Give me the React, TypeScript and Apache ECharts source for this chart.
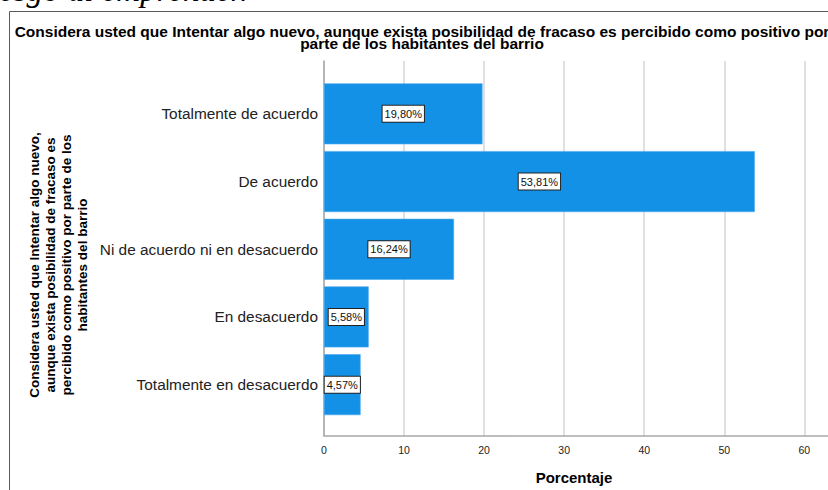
import React, { useEffect, useRef } from "react";
import * as echarts from "echarts";

const categories = [
  "Totalmente de acuerdo",
  "De acuerdo",
  "Ni de acuerdo ni en desacuerdo",
  "En desacuerdo",
  "Totalmente en desacuerdo",
];
const percentages = [19.8, 53.81, 16.24, 5.58, 4.57];
const xTicksMin = 0;
const xTicksMax = 70;
const xTickStep = 10;

const titleText =
  "Considera usted que Intentar algo nuevo, aunque exista posibilidad de fracaso es percibido como positivo por\nparte de los habitantes del barrio";
const yName =
  "Considera usted que Intentar algo nuevo,\naunque exista posibilidad de fracaso es\npercibido como positivo por parte de los\nhabitantes del barrio";
const xName = "Porcentaje";
const docText = "esgo al emprender.";

const SANS = "'Liberation Sans', Arial, sans-serif";

export default function App() {
  const ref = useRef<HTMLDivElement>(null);
  useEffect(() => {
    if (!ref.current) return;
    const chart = echarts.init(ref.current, null, { renderer: "svg" });
    const plotLeft = 324;
    const plotWidth = 560.4;
    chart.setOption({
      animation: false,
      backgroundColor: "#ffffff",
      grid: [
        { left: plotLeft, top: 61, width: plotWidth, height: 375 },
        { left: plotLeft, top: 80, width: plotWidth, height: 338.5 },
      ],
      xAxis: [
        {
          type: "value",
          gridIndex: 0,
          min: xTicksMin,
          max: xTicksMax,
          interval: xTickStep,
          axisLine: { show: true, lineStyle: { color: "#a8a8a8", width: 1.5 } },
          axisTick: { show: false },
          axisLabel: {
            margin: 8,
            color: "#222",
            fontSize: 10.5,
            fontFamily: SANS,
            showMaxLabel: false,
          },
          splitLine: { show: true, lineStyle: { color: "#d6d6d6", width: 1.5 } },
        },
        {
          type: "value",
          gridIndex: 1,
          min: xTicksMin,
          max: xTicksMax,
          show: false,
        },
      ],
      yAxis: [
        {
          type: "value",
          gridIndex: 0,
          axisLine: { show: true, lineStyle: { color: "#a8a8a8", width: 1.5 } },
          axisTick: { show: false },
          axisLabel: { show: false },
          splitLine: { show: false },
        },
        {
          type: "category",
          gridIndex: 1,
          inverse: true,
          data: categories,
          axisLine: { show: false },
          axisTick: { show: false },
          axisLabel: {
            margin: 6,
            color: "#222",
            fontSize: 15.4,
            fontFamily: SANS,
          },
        },
      ],
      series: [
        {
          type: "bar",
          xAxisIndex: 1,
          yAxisIndex: 1,
          data: percentages,
          barCategoryGap: "10%",
          itemStyle: { color: "#1391e6", borderColor: "#4aa8ee", borderWidth: 0.6 },
          label: {
            show: true,
            position: "inside",
            formatter: (p: any) => p.value.toFixed(2).replace(".", ",") + "%",
            color: "#111",
            fontSize: 11,
            fontFamily: SANS,
            backgroundColor: "#ffffff",
            borderColor: "#222",
            borderWidth: 1,
            padding: [3, 2, 2, 2],
          },
        },
      ],
      graphic: [
        {
          type: "rect",
          shape: { x: 9.5, y: 11.5, width: 900, height: 600 },
          style: { fill: "none", stroke: "#5a5a5a", lineWidth: 1 },
          silent: true,
          z: -1,
        },
        {
          type: "text",
          x: -1,
          y: -10,
          style: {
            text: docText,
            font: "italic 33px 'Liberation Serif', 'Times New Roman', serif",
            fill: "#000",
            align: "left",
            verticalAlign: "middle",
          },
        },
        {
          type: "text",
          x: 422,
          y: 37.5,
          style: {
            text: titleText,
            font: "bold 15.5px " + SANS,
            lineHeight: 12.5,
            fill: "#000",
            align: "center",
            verticalAlign: "middle",
          },
        },
        {
          type: "text",
          x: 58,
          y: 265,
          rotation: Math.PI / 2,
          style: {
            text: yName,
            font: "bold 13.5px " + SANS,
            lineHeight: 16,
            fill: "#000",
            align: "center",
            verticalAlign: "middle",
          },
        },
        {
          type: "text",
          x: 574,
          y: 477.5,
          style: {
            text: xName,
            font: "bold 15px " + SANS,
            fill: "#000",
            align: "center",
            verticalAlign: "middle",
          },
        },
      ],
    });
    return () => chart.dispose();
  }, []);
  return (
    <div
      style={{
        position: "fixed",
        left: 0,
        top: 0,
        width: 828,
        height: 490,
        overflow: "hidden",
        background: "#fff",
      }}
    >
      <div ref={ref} style={{ width: 920, height: 490 }} />
    </div>
  );
}
